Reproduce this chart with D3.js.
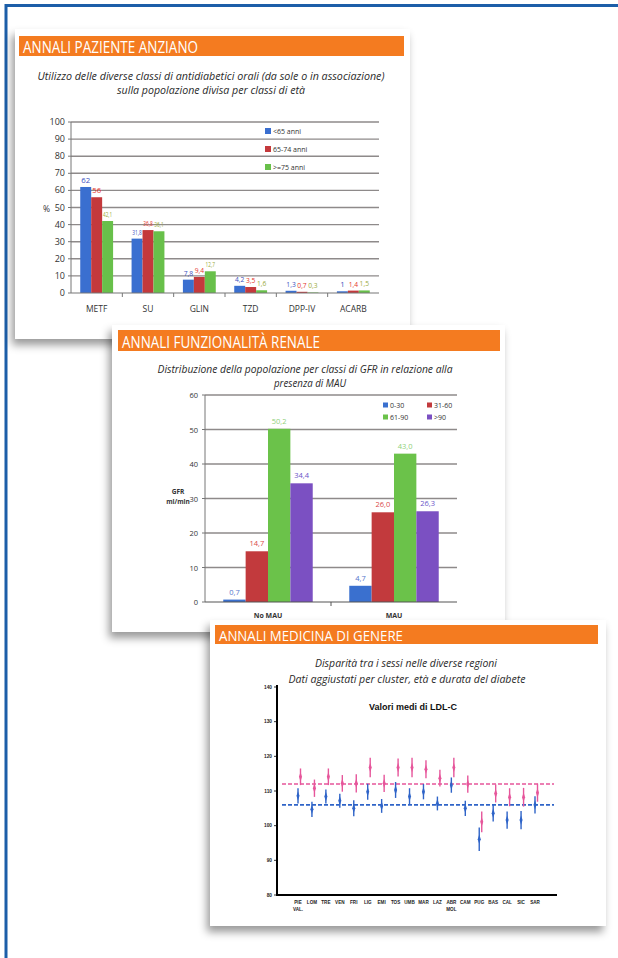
<!DOCTYPE html>
<html lang="it">
<head>
  <meta charset="UTF-8">
  <title>Annali AMD</title>
  <script src="https://d3js.org/d3.v7.min.js"></script>
</head>
<style>
  body { margin: 0; background: #fff; }
  text { font-family: "Open Sans", "DejaVu Sans", sans-serif; }
  .head { fill: #fff; }
  .ttl { font-style: italic; fill: #2a2a2a; }
  .tick-lbl { fill: #333; }
</style>
<body>
<svg id="page" width="618" height="958"></svg>

<script>
  // --- slide 1: antidiabetici orali per classi di eta'
  const drugClasses = ["METF", "SU", "GLIN", "TZD", "DPP-IV", "ACARB"];
  const ageGroups = ["<65 anni", "65-74 anni", ">=75 anni"];
  const under65 = [62, 31.8, 7.8, 4.2, 1.3, 1];
  const age65to74 = [56, 36.8, 9.4, 3.5, 0.7, 1.4];
  const over75 = [42.1, 36.1, 12.7, 1.6, 0.3, 1.5];
  const pctTicks = [0, 10, 20, 30, 40, 50, 60, 70, 80, 90, 100];

  // --- slide 2: classi di GFR per MAU
  const mauGroups = ["No MAU", "MAU"];
  const gfrClasses = ["0-30", "31-60", "61-90", ">90"];
  const gfrNoMau = [0.7, 14.7, 50.2, 34.4];
  const gfrMau = [4.7, 26.0, 43.0, 26.3];
  const gfrTicks = [0, 10, 20, 30, 40, 50, 60];

  // --- slide 3: LDL-C medio per regione (uomini blu, donne rosa)
  const regions = ["PIE|VAL.", "LOM", "TRE", "VEN", "FRI", "LIG", "EMI", "TOS", "UMB",
                   "MAR", "LAZ", "ABR|MOL", "CAM", "PUG", "BAS", "CAL", "SIC", "SAR"];
  const ldlMen =   [108.6, 104.7, 108.4, 107.2, 105.0, 109.8, 105.7, 110.3, 108.4,
                    109.8, 106.4, 111.7, 105.0, 96.1, 103.6, 101.6, 101.6, 106.0];
  const ldlWomen = [114.1, 110.8, 114.1, 112.2, 112.2, 116.8, 112.2, 116.8, 116.8,
                    116.3, 113.7, 116.8, 112.0, 101.1, 109.3, 108.2, 108.2, 109.5];
  const ciMen =    [2.2, 2.2, 2.0, 2.0, 2.3, 2.3, 2.0, 2.3, 2.4,
                    2.2, 2.0, 2.2, 2.2, 3.4, 2.4, 2.5, 2.6, 2.5];
  const ciWomen =  [2.4, 2.5, 2.4, 2.4, 2.6, 2.8, 2.5, 2.6, 2.8,
                    2.6, 2.4, 2.8, 2.5, 3.0, 2.6, 2.6, 2.7, 2.6];
  const meanMen = 106;
  const meanWomen = 112;
  const ldlTicks = [80, 90, 100, 110, 120, 130, 140];

  const svg = d3.select("#page");
  const fmt = v => String(v).replace(".", ",");
  const fmt1 = v => d3.format(".1f")(v).replace(".", ",");

  const defs = svg.append("defs");
  defs.append("filter").attr("id", "shadow")
      .attr("x", "-10%").attr("y", "-10%").attr("width", "120%").attr("height", "125%")
    .append("feDropShadow")
      .attr("dx", -3).attr("dy", 6).attr("stdDeviation", 4)
      .attr("flood-color", "#000").attr("flood-opacity", 0.4);

  // page frame
  svg.append("line").attr("x1", 6).attr("x2", 618).attr("y1", 5.5).attr("y2", 5.5)
      .attr("stroke", "#1c5ea8").attr("stroke-width", 3);
  svg.append("line").attr("x1", 6).attr("x2", 6).attr("y1", 4).attr("y2", 958)
      .attr("stroke", "#1c5ea8").attr("stroke-width", 3);

  function slide(box, head, title) {
    let g = svg.append("g");
    g.append("rect").attr("x", box[0]).attr("y", box[1]).attr("width", box[2]).attr("height", box[3])
        .attr("fill", "#fff").attr("filter", "url(#shadow)");
    g.append("rect").attr("x", head[0]).attr("y", head[1]).attr("width", head[2]).attr("height", head[3])
        .attr("fill", "#f47b20");
    g.append("text").attr("class", "head")
        .attr("x", head[0] + 4).attr("y", head[1] + head[3] - 3)
        .attr("font-size", title.size)
        .attr("textLength", title.len).attr("lengthAdjust", "spacingAndGlyphs")
        .text(title.text);
    return g;
  }

  function titleLine(g, text, cx, y, len, size) {
    g.append("text").attr("class", "ttl")
        .attr("x", cx - len / 2).attr("y", y)
        .attr("font-size", size)
        .attr("textLength", len).attr("lengthAdjust", "spacingAndGlyphs")
        .text(text);
  }

  // ================= slide 1 =================
  {
    let g = slide([15, 29, 395, 310], [19, 36, 385, 20],
                  {text: "ANNALI PAZIENTE ANZIANO", size: 17, len: 175});
    titleLine(g, "Utilizzo delle diverse classi di antidiabetici orali  (da sole o in associazione)", 211, 80, 347, 11);
    titleLine(g, "sulla popolazione divisa per classi di età", 211, 94, 188, 11);

    let x = d3.scaleBand().domain(drugClasses).range([71, 379]).paddingInner(0.36).paddingOuter(0.18);
    let xs = d3.scaleBand().domain(ageGroups).range([0, x.bandwidth()]);
    let y = d3.scaleLinear().domain([0, 100]).range([293, 122]);
    let colors = ["#3a6fd0", "#c4393c", "#68c04a"];
    let lblColors = ["#3b50c0", "#e5352b", "#9aab3c"];
    let series = [under65, age65to74, over75];

    g.append("g").selectAll("line").data(pctTicks.filter(d => d > 0)).join("line")
        .attr("x1", 71).attr("x2", 379).attr("y1", d => y(d)).attr("y2", d => y(d))
        .attr("stroke", "#8e8a8a").attr("stroke-width", 1.4);
    g.append("line").attr("x1", 71).attr("x2", 71).attr("y1", y(100)).attr("y2", y(0))
        .attr("stroke", "#777").attr("stroke-width", 1);
    g.append("g").selectAll("line").data(pctTicks).join("line")
        .attr("x1", 68).attr("x2", 71).attr("y1", d => y(d)).attr("y2", d => y(d))
        .attr("stroke", "#777");
    g.append("g").selectAll("text").data(pctTicks).join("text").attr("class", "tick-lbl")
        .attr("x", 65).attr("y", d => y(d) + 3).attr("text-anchor", "end")
        .attr("font-size", 9).text(d => d);
    g.append("text").attr("x", 43).attr("y", 212).attr("font-size", 8.5).attr("fill", "#333").text("%");

    series.forEach((vals, si) => {
      g.append("g").selectAll("rect").data(drugClasses).join("rect")
          .attr("x", d => x(d) + xs(ageGroups[si])).attr("width", xs.bandwidth())
          .attr("y", (d, i) => y(vals[i])).attr("height", (d, i) => y(0) - y(vals[i]))
          .attr("fill", colors[si]);
      // narrow condensed labels so that neighbours do not collide
      g.append("g").selectAll("text").data(drugClasses).join("text")
          .attr("x", (d, i) => x(d) + xs(ageGroups[si]) + xs.bandwidth() / 2
                               - (fmt(vals[i]).length > 2 ? 4.7 : 0))
          .attr("y", (d, i) => y(vals[i]) - 4)
          .attr("text-anchor", (d, i) => fmt(vals[i]).length > 2 ? "start" : "middle")
          .attr("font-size", 7.8).attr("fill", lblColors[si])
          .each(function(d, i) {
            if (fmt(vals[i]).length > 2)
              d3.select(this).attr("textLength", 9.4).attr("lengthAdjust", "spacingAndGlyphs");
          })
          .text((d, i) => fmt(vals[i]));
    });

    g.append("line").attr("x1", 71).attr("x2", 379).attr("y1", y(0)).attr("y2", y(0))
        .attr("stroke", "#777").attr("stroke-width", 1.2);
    g.append("g").selectAll("line").data(drugClasses.slice(1)).join("line")
        .attr("x1", d => x(d) - x.step() * 0.18).attr("x2", d => x(d) - x.step() * 0.18)
        .attr("y1", y(0)).attr("y2", y(0) + 4).attr("stroke", "#777");
    g.append("g").selectAll("text").data(drugClasses).join("text")
        .attr("x", d => x(d) + x.bandwidth() / 2).attr("y", 312)
        .attr("text-anchor", "middle").attr("font-size", 8.5).attr("fill", "#333")
        .text(d => d);

    let leg = g.append("g").selectAll("g").data(ageGroups).join("g")
        .attr("transform", (d, i) => `translate(265,${131 + i * 18})`);
    leg.append("rect").attr("x", 0).attr("y", -3).attr("width", 6).attr("height", 6)
        .attr("fill", (d, i) => colors[i]);
    leg.append("text").attr("x", 8).attr("y", 2.5).attr("font-size", 7).attr("fill", "#333").text(d => d);
  }

  // ================= slide 2 =================
  {
    let g = slide([112, 325, 393, 307], [118, 330, 382, 21],
                  {text: "ANNALI FUNZIONALITÀ RENALE", size: 15.5, len: 198});
    titleLine(g, "Distribuzione della popolazione per classi di GFR in relazione alla", 305, 373, 295, 11);
    titleLine(g, "presenza di MAU", 310, 387, 72, 11);

    let x = d3.scaleBand().domain(mauGroups).range([205, 457]).paddingInner(0.29).paddingOuter(0.145);
    let xs = d3.scaleBand().domain(gfrClasses).range([0, x.bandwidth()]);
    let y = d3.scaleLinear().domain([0, 60]).range([602, 395]);
    let colors = ["#3a70cf", "#c23a3d", "#6bc24a", "#7b50c2"];
    let lblColors = ["#5575cc", "#d94a48", "#8fd07a", "#6a55c8"];
    let series = [0, 1, 2, 3].map(k => [gfrNoMau[k], gfrMau[k]]);

    g.append("g").selectAll("line").data(gfrTicks.filter(d => d > 0)).join("line")
        .attr("x1", 205).attr("x2", 457).attr("y1", d => y(d)).attr("y2", d => y(d))
        .attr("stroke", "#8e8a8a").attr("stroke-width", 1.4);
    g.append("line").attr("x1", 205).attr("x2", 205).attr("y1", y(60)).attr("y2", y(0))
        .attr("stroke", "#777");
    g.append("g").selectAll("line").data(gfrTicks).join("line")
        .attr("x1", 202).attr("x2", 205).attr("y1", d => y(d)).attr("y2", d => y(d))
        .attr("stroke", "#777");
    g.append("g").selectAll("text").data(gfrTicks).join("text").attr("class", "tick-lbl")
        .attr("x", 198).attr("y", d => y(d) + 3).attr("text-anchor", "end")
        .attr("font-size", 7.5).text(d => d);
    g.append("text").attr("x", 178).attr("y", 494).attr("text-anchor", "middle")
        .attr("font-size", 6.5).attr("font-weight", "bold").attr("fill", "#333").text("GFR");
    g.append("text").attr("x", 178).attr("y", 504).attr("text-anchor", "middle")
        .attr("font-size", 6.5).attr("font-weight", "bold").attr("fill", "#333").text("ml/min");

    series.forEach((vals, si) => {
      g.append("g").selectAll("rect").data(mauGroups).join("rect")
          .attr("x", d => x(d) + xs(gfrClasses[si])).attr("width", xs.bandwidth())
          .attr("y", (d, i) => y(vals[i])).attr("height", (d, i) => y(0) - y(vals[i]))
          .attr("fill", colors[si]);
      g.append("g").selectAll("text").data(mauGroups).join("text")
          .attr("x", d => x(d) + xs(gfrClasses[si]) + xs.bandwidth() / 2)
          .attr("y", (d, i) => y(vals[i]) - 5)
          .attr("text-anchor", "middle").attr("font-size", 7.5).attr("fill", lblColors[si])
          .text((d, i) => fmt1(vals[i]));
    });

    g.append("line").attr("x1", 205).attr("x2", 457).attr("y1", y(0)).attr("y2", y(0))
        .attr("stroke", "#555").attr("stroke-width", 1.2);
    g.append("line").attr("x1", x("MAU") - x.step() * 0.145).attr("x2", x("MAU") - x.step() * 0.145)
        .attr("y1", y(0)).attr("y2", y(0) + 4).attr("stroke", "#555");
    g.append("g").selectAll("text").data(mauGroups).join("text")
        .attr("x", d => x(d) + x.bandwidth() / 2).attr("y", 618)
        .attr("text-anchor", "middle").attr("font-size", 7).attr("font-weight", "bold").attr("fill", "#333")
        .text(d => d);

    let leg = g.append("g").selectAll("g").data(gfrClasses).join("g")
        .attr("transform", (d, i) => `translate(${383 + (i % 2) * 44},${405 + Math.floor(i / 2) * 12})`);
    leg.append("rect").attr("x", 0).attr("y", -2.5).attr("width", 5).attr("height", 5)
        .attr("fill", (d, i) => colors[i]);
    leg.append("text").attr("x", 7).attr("y", 2.5).attr("font-size", 7).attr("fill", "#333").text(d => d);
  }

  // ================= slide 3 =================
  {
    let g = slide([210, 620, 396, 306], [215, 625, 383, 19],
                  {text: "ANNALI MEDICINA DI GENERE", size: 15, len: 184});
    titleLine(g, "Disparità tra i sessi nelle diverse regioni", 406, 667, 182, 11);
    titleLine(g, "Dati aggiustati per cluster, età e durata del diabete", 407, 683, 237, 11);

    let x = d3.scalePoint().domain(regions).range([298, 535]);
    let y = d3.scaleLinear().domain([80, 140]).range([895, 687]);
    let blue = "#2f64c8", pink = "#e6569b";

    g.append("text").attr("x", 413).attr("y", 710).attr("text-anchor", "middle")
        .attr("font-size", 9).attr("font-weight", "bold").attr("fill", "#111")
        .style("font-family", "'Liberation Sans', Arial, sans-serif")
        .text("Valori medi di LDL-C");

    g.append("line").attr("x1", 277).attr("x2", 277).attr("y1", 685).attr("y2", 896)
        .attr("stroke", "#000").attr("stroke-width", 2);
    g.append("line").attr("x1", 276).attr("x2", 557).attr("y1", 895).attr("y2", 895)
        .attr("stroke", "#000").attr("stroke-width", 2);
    g.append("g").selectAll("line").data(ldlTicks).join("line")
        .attr("x1", 274).attr("x2", 277).attr("y1", d => y(d)).attr("y2", d => y(d))
        .attr("stroke", "#000").attr("stroke-width", 0.8);
    g.append("g").selectAll("text").data(ldlTicks).join("text")
        .attr("x", 272).attr("y", d => y(d) + 1.7).attr("text-anchor", "end")
        .attr("font-size", 4.8).attr("font-weight", "bold").attr("fill", "#222")
        .style("font-family", "'Liberation Sans', Arial, sans-serif")
        .text(d => d);

    g.append("line").attr("x1", 282).attr("x2", 554).attr("y1", y(meanWomen)).attr("y2", y(meanWomen))
        .attr("stroke", pink).attr("stroke-width", 1.6).attr("stroke-dasharray", "4,2");
    g.append("line").attr("x1", 282).attr("x2", 554).attr("y1", y(meanMen)).attr("y2", y(meanMen))
        .attr("stroke", blue).attr("stroke-width", 1.6).attr("stroke-dasharray", "4,2");

    let diamond = d3.symbol().type(d3.symbolDiamond).size(10);
    function markers(vals, ci, color, dx) {
      let m = g.append("g").selectAll("g").data(regions).join("g")
          .attr("transform", (d, i) => `translate(${x(d) + dx},0)`);
      m.append("line").attr("x1", 0).attr("x2", 0)
          .attr("y1", (d, i) => y(vals[i] - ci[i])).attr("y2", (d, i) => y(vals[i] + ci[i]))
          .attr("stroke", color).attr("stroke-width", 1.4);
      m.append("path").attr("d", diamond)
          .attr("transform", (d, i) => `translate(0,${y(vals[i])}) scale(0.9,1.6)`)
          .attr("fill", color);
    }
    markers(ldlMen, ciMen, blue, 0);
    markers(ldlWomen, ciWomen, pink, 2.5);

    let xl = g.append("g").selectAll("text").data(regions).join("text")
        .attr("x", d => x(d)).attr("y", 904).attr("text-anchor", "middle")
        .attr("font-size", 4.6).attr("font-weight", "bold").attr("fill", "#222")
        .style("font-family", "'Liberation Sans', Arial, sans-serif");
    xl.append("tspan").attr("x", d => x(d)).text(d => d.split("|")[0]);
    xl.append("tspan").attr("x", d => x(d)).attr("dy", 7).text(d => d.split("|")[1] || "");
  }
</script>
</body>
</html>
